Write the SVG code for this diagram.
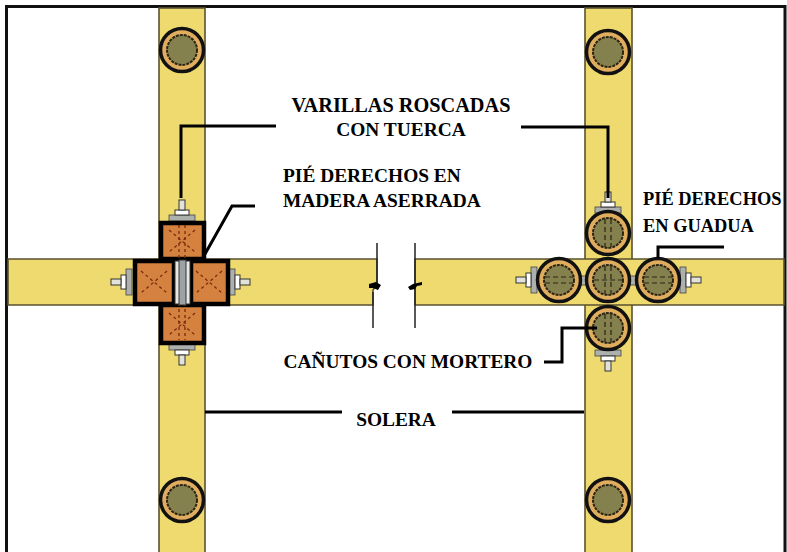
<svg xmlns="http://www.w3.org/2000/svg" width="787" height="552" viewBox="0 0 787 552">
<style>
.beam{fill:#eeda6e;stroke:#5a5230;stroke-width:1.6}
.ld{fill:none;stroke:#000;stroke-width:3}
.cut{fill:none;stroke:#222;stroke-width:1.5}
.t{font-family:"Liberation Serif","Times New Roman",serif;font-weight:bold;font-size:19.4px;fill:#000;text-anchor:middle}
.s{font-size:18.4px;text-anchor:start}
.sq{fill:#d5813f;stroke:#000;stroke-width:4.5}
.dd{fill:none;stroke:#7a2a10;stroke-width:1.3;stroke-dasharray:3 3}
.o1{fill:#e0ad5f;stroke:#111;stroke-width:3.5}
.o2{fill:#85814f;stroke:#2a2412;stroke-width:2;stroke-dasharray:3 1}
.dk{fill:none;stroke:#2a2412;stroke-width:1.2;stroke-dasharray:5 3}
.wh{fill:#fff;stroke:#333;stroke-width:1}
.gr{fill:#aeb0ae;stroke:#444;stroke-width:.8}
.lg{fill:#e2e2da;stroke:#333;stroke-width:1}
</style>
<defs>
<g id="ring"><circle r="21.5" class="o1"/><circle r="15" class="o2"/></g>
<g id="xs"><path class="dd" d="M-13 -11 L13 11 M13 -11 L-13 11"/></g>
<g id="ringV"><use href="#ring"/><path class="dk" d="M-3 -14V14M3 -14V14"/></g>
<g id="ringH"><use href="#ring"/><path class="dk" d="M-14 -3H14M-14 3H14"/></g>
<g id="boltU"><rect x="-13" y="-6" width="26" height="6" class="gr"/><rect x="-7" y="-11" width="14" height="5" class="wh"/><rect x="-3" y="-21" width="6" height="10" class="lg"/></g>
</defs>
<rect width="787" height="552" fill="#fff"/>
<g id="marco" fill="none" stroke="#111">
<path d="M6.500 552V6.500H785V552" stroke-width="3"/>
</g>
<g id="soleras">
<rect class="beam" x="159" y="8" width="46" height="545"/>
<rect class="beam" x="585" y="8" width="47" height="545"/>
<path class="beam" d="M8 259H377V284L373 290V305H8Z"/>
<path class="beam" d="M415 259V305H784V259Z"/>
</g>
<g id="corte">
<path class="cut" d="M377 243V286M373 292V328M415 243V328"/>
<path d="M369 284L376 282L381 285L378 290L373 288L369 288Z" fill="#000"/>
<path d="M422 282L413 284L408 287L410 290L415 289L417 286L422 285Z" fill="#000"/>
</g>
<g id="anillos-extremos">
<use href="#ring" x="182" y="50"/>
<use href="#ring" x="608" y="52"/>
<use href="#ring" x="182" y="500"/>
<use href="#ring" x="608" y="500"/>
</g>
<g id="pie-madera">
<use href="#boltU" x="182" y="221"/>
<use href="#boltU" transform="translate(182 344) rotate(180)"/>
<use href="#boltU" transform="translate(132 282) rotate(-90)"/>
<use href="#boltU" transform="translate(229 282) rotate(90)"/>
<rect class="sq" x="161" y="223" width="43" height="36"/>
<rect class="sq" x="161" y="305" width="43" height="38"/>
<rect class="sq" x="135" y="261" width="39" height="43"/>
<rect class="sq" x="191" y="261" width="37" height="43"/>
<use href="#xs" x="182" y="241"/><use href="#xs" x="182" y="324"/>
<use href="#xs" x="154" y="282"/><use href="#xs" x="209" y="282"/>
<path class="dd" d="M179 225V340M185 225V340"/>
<rect x="175" y="261" width="15" height="43" fill="#e8e8e4" stroke="#333"/>
<rect x="179" y="260" width="7" height="45" fill="#9ea2a6" stroke="#333"/>
</g>
<g id="pie-guadua">
<use href="#boltU" x="608" y="213"/>
<use href="#boltU" transform="translate(608 350) rotate(180)"/>
<use href="#boltU" transform="translate(537 280) rotate(-90)"/>
<use href="#boltU" transform="translate(680 280) rotate(90)"/>
<rect x="581" y="276" width="6" height="9" class="gr"/>
<rect x="630" y="276" width="6" height="9" class="gr"/>
<use href="#ringV" x="608" y="233"/>
<use href="#ringV" x="608" y="328"/>
<use href="#ringH" x="559" y="280"/>
<use href="#ringH" x="658" y="280"/>
<use href="#ringV" x="608" y="280"/>
<path class="dk" d="M594 280H622"/>
</g>
<g id="conectores">
<path class="ld" d="M181 198V126H276"/>
<path class="ld" d="M521 127H608V198"/>
<path class="ld" d="M205 254L232 206H255"/>
<path class="ld" d="M658 258V247H724"/>
<path class="ld" d="M597 328H562V362H544"/>
<path class="ld" d="M205 412H342"/>
<path class="ld" d="M452 412H584"/>
</g>
<g id="textos">
<text class="t" x="401" y="112" style="font-size:20.300px">VARILLAS ROSCADAS</text>
<text class="t" x="401" y="136">CON TUERCA</text>
<text class="t" x="283" y="182" style="text-anchor:start">PIÉ DERECHOS EN</text>
<text class="t" x="283" y="207" style="text-anchor:start">MADERA ASERRADA</text>
<text class="t s" x="643" y="205">PIÉ DERECHOS</text>
<text class="t s" x="643" y="232">EN GUADUA</text>
<text class="t" x="408" y="368">CAÑUTOS CON MORTERO</text>
<text class="t" x="396" y="426">SOLERA</text>
</g>
</svg>
